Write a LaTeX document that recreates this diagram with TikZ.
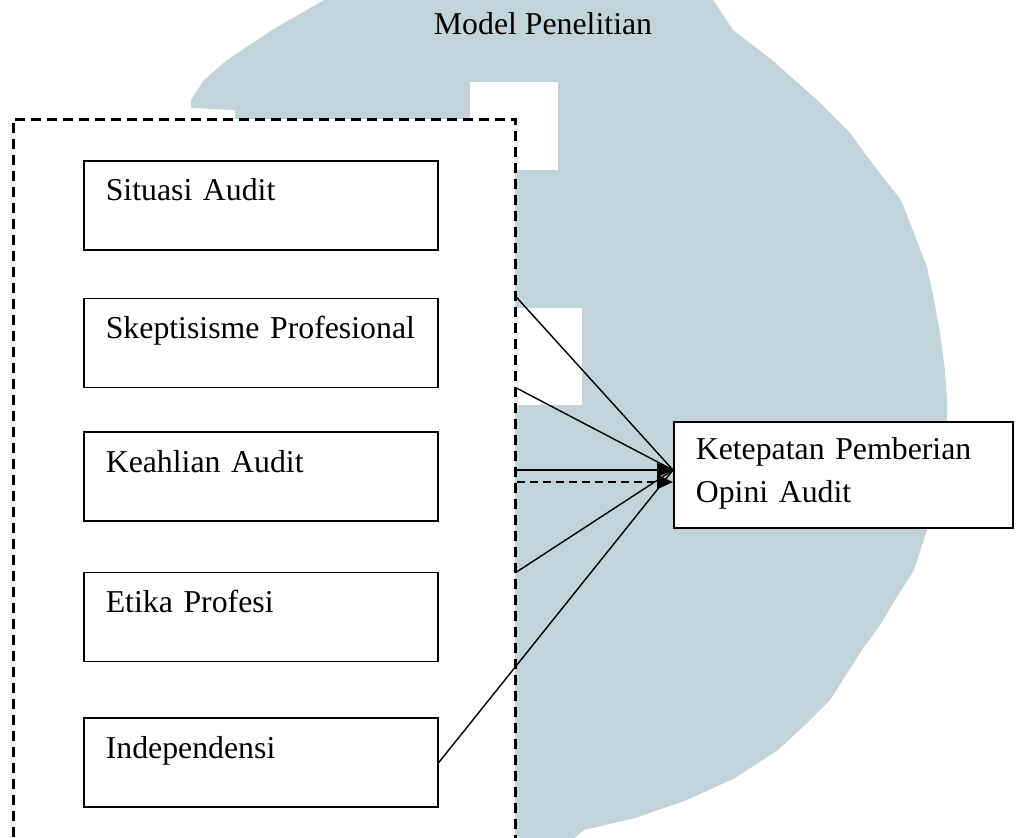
\documentclass[tikz,border=0pt]{standalone}
\usepackage{fontspec}
\setmainfont{Liberation Serif}
\usepackage{tikz}
\usetikzlibrary{arrows.meta,positioning,calc}
\definecolor{wmark}{RGB}{194,212,219}

\begin{document}
\begin{tikzpicture}[
    node distance=22pt,
    txt/.style={font=\fontsize{15.9pt}{21.5pt}\selectfont},
    box/.style={draw, line width=0.8pt, fill=white, text width=155pt, align=left, inner xsep=11pt, inner ysep=5pt, text height=15pt, text depth=19.5pt, txt},
    target/.style={box, text width=147.5pt, text height=13.5pt, text depth=29.5pt},
    group/.style={draw, fill=white, line width=1.4pt, dash pattern=on 5pt off 3pt, minimum width=251pt, minimum height=400pt, anchor=north west},
    link/.style={line width=0.7pt},
    arrow/.style={-{Triangle[length=8pt,width=7pt]}, line width=1.1pt},
    dasharrow/.style={arrow, line width=1.2pt, dash pattern=on 4pt off 2.5pt}
]
\useasboundingbox (0,0) rectangle (508.5pt,-418.5pt);

    % Watermark in the background
    \begin{scope}[x=0.5pt, y=-0.5pt]
    \fill[wmark] (324,-10) -- (713,-10) -- (713,0) -- (733,30) -- (772,60) -- (817,100) -- (850,133)
        -- (875,167) -- (901,200) -- (914,233) -- (927,267) -- (934,300) -- (940,333) -- (945,370) -- (947,400)
        -- (947,440) -- (944,470) -- (940,490) -- (927,530) -- (914,570) -- (895,600) -- (880,625) -- (862,650) -- (830,700)
        -- (805,725) -- (778,750) -- (735,778) -- (687,800) -- (635,818) -- (584,830) -- (560,850) -- (300,850) -- (300,125) -- (235,125)
        -- (235,110) -- (191,108) -- (191,100) -- (204,80) -- (227,60) -- (272,30) -- (324,0) -- cycle;
    \fill[white] (470,82) rectangle (558,170);
    \fill[white] (515,308) rectangle (582,405);
    \end{scope}

    % Title
    \node[txt, anchor=base] (title) at (271.5pt,-17pt) {Model Penelitian};

    % Independent variables
    \node[group] (grp) at (6pt,-59pt) {};
    \node[box, anchor=north west] (sit) at (41.5pt,-80pt) {Situasi Audit};
    \node[box, below=23.5pt of sit] (skep) {Skeptisisme Profesional};
    \node[box, below=21.5pt of skep] (keah) {Keahlian Audit};
    \node[box, below=25pt of keah] (etika) {Etika Profesi};
    \node[box, below=27.5pt of etika] (ind) {Independensi};

    % Dependent variable
    \node[target, anchor=west] (ket) at (336.5pt,-237.5pt) {Ketepatan Pemberian\\Opini Audit};
    \coordinate (in1) at ($(ket.west)+(0,2.5pt)$);
    \coordinate (in2) at ($(ket.west)+(0,-3.5pt)$);

    % Connections
    \draw[link] (grp.east |- skep.north) -- (in1);
    \draw[link] (grp.east |- skep.south) -- (in1);
    \draw[arrow] (grp.east |- in1) -- (in1);
    \draw[dasharrow] (grp.east |- in2) -- (in2);
    \draw[link] (grp.east |- etika.north) -- (in1);
    \draw[link] (ind.east) -- (in1);

\end{tikzpicture}
\end{document}
